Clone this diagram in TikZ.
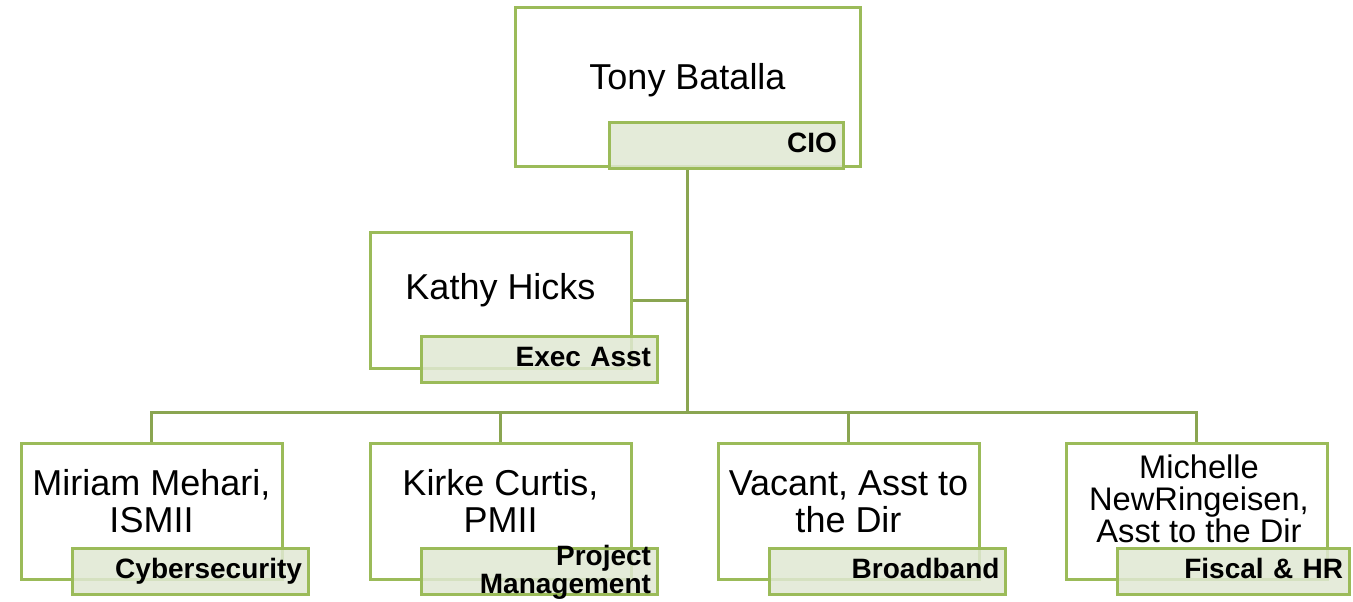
\documentclass[tikz,border=0pt]{standalone}
\usepackage{fontspec}
\setmainfont{Liberation Sans}
\usetikzlibrary{backgrounds}
\definecolor{boxgreen}{HTML}{9BBB59}
\definecolor{linkgreen}{HTML}{8AA551}
\definecolor{labelfill}{HTML}{E0E8D3}
\tikzset{
  namebox/.style={draw=boxgreen, line width=2.25pt, fill=white, minimum width=195.75pt, minimum height=102pt, inner sep=0pt},
  topbox/.style={namebox, minimum width=258.75pt, minimum height=119.25pt},
  rolebox/.style={draw=boxgreen, line width=2.25pt, fill=labelfill, fill opacity=0.85, text opacity=1,
    inner xsep=4.5pt, inner ysep=0pt, text width=168pt, align=right, text height=22.5pt, text depth=12pt,
    font=\fontsize{21}{21}\selectfont\bfseries},
  nametext/.style={anchor=base, align=center, inner sep=0pt, font=\fontsize{27}{27.75}\selectfont},
  link/.style={draw=linkgreen, line width=2.25pt}
}
\begin{document}
\begin{tikzpicture}[x=0.75pt,y=-0.75pt]
\useasboundingbox (0,0) rectangle (1353,601);
% boxes
\node[topbox] (tony) at (687.5,86.5) {};
\node[namebox] (kathy) at (500.5,300) {};
\node[namebox] (miriam) at (151.5,511) {};
\node[namebox] (kirke) at (500.5,511) {};
\node[namebox] (vacant) at (848.5,511) {};
\node[namebox] (michelle) at (1196.5,511) {};
% names (base anchor = baseline of last line)
\node[nametext] (tonyT) at (687.5,89) {Tony Batalla};
\node[nametext] (kathyT) at (500.5,299) {Kathy Hicks};
\node[nametext] (miriamT) at (151.5,532) {Miriam Mehari,\\ISMII};
\node[nametext] (kirkeT) at (500.5,532) {Kirke Curtis,\\PMII};
\node[nametext] (vacantT) at (848.5,532) {Vacant, Asst to\\the Dir};
\node[nametext, font=\fontsize{24.5}{24}\selectfont] (michelleT) at (1199,542) {Michelle\\NewRingeisen,\\Asst to the Dir};
% role labels
\node[rolebox, text width=166.5pt] (tonyR) at (726,145.5) {CIO};
\node[rolebox] (kathyR) at (539,359) {Exec Asst};
\node[rolebox] (miriamR) at (190,571) {Cybersecurity};
\node[rolebox, text height=12.75pt, text depth=21.75pt] (kirkeR) at (539,571) {Project\\Management};
\node[rolebox] (vacantR) at (887.5,571) {Broadband};
\node[rolebox, text width=165pt] (michelleR) at (1233,571) {Fiscal \& HR};
% connectors
\begin{pgfonlayer}{background}
\coordinate (bus) at (687.5,412);
\draw[link] (tony.south) -- (bus);
\draw[link] (kathy.east) -- (kathy.east -| bus);
\draw[link] (miriam.north) |- (bus) -| (michelle.north);
\draw[link] (kirke.north) -- (kirke.north |- bus);
\draw[link] (vacant.north) -- (vacant.north |- bus);
\end{pgfonlayer}
\end{tikzpicture}
\end{document}
